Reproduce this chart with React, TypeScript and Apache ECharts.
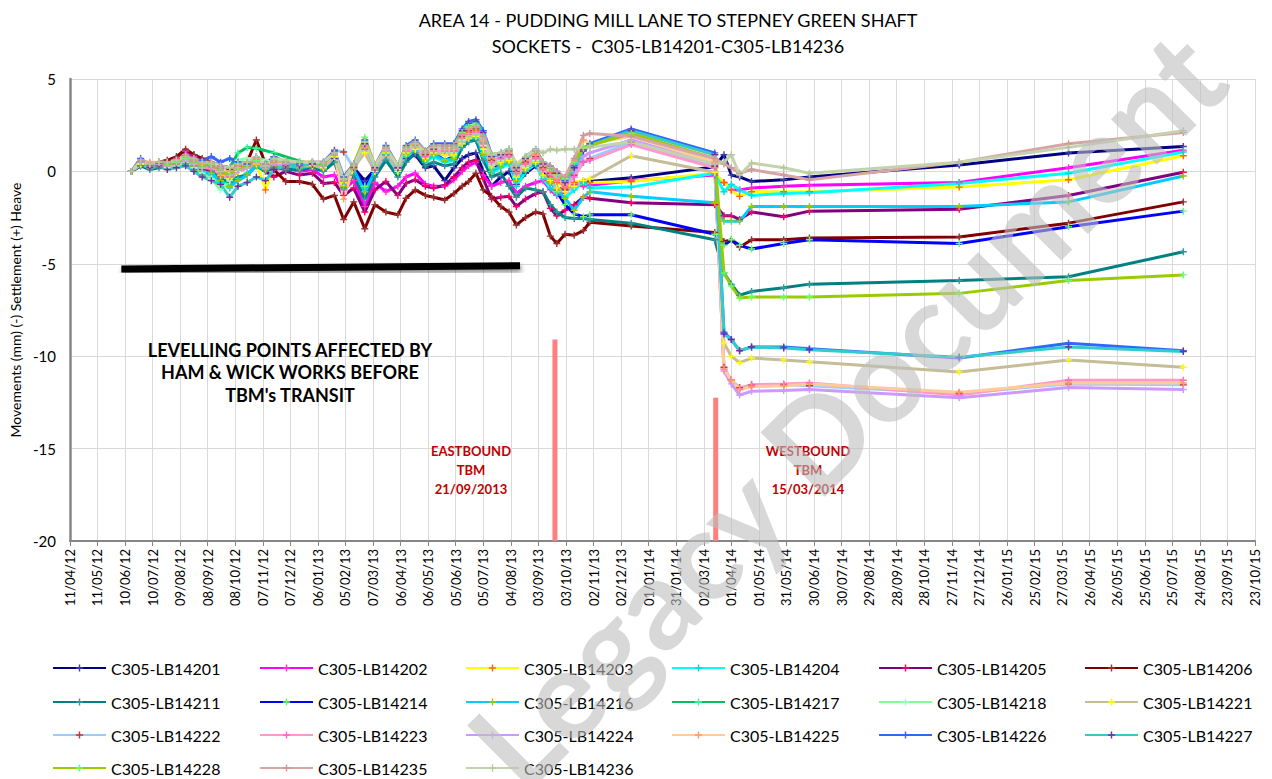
import React, { useEffect, useRef } from 'react';
import * as echarts from 'echarts';

const FONT = 'Lato, "Noto Sans", sans-serif';

const titleLines = ['AREA 14 - PUDDING MILL LANE TO STEPNEY GREEN SHAFT', 'SOCKETS -  C305-LB14201-C305-LB14236'];
const yAxisName = 'Movements (mm) (-) Settlement (+) Heave';

const axisStart = '2012-04-11';
const axisEnd = '2015-10-23';
const tickDays = 30;

const dates = [
  '2012-06-17', '2012-06-27', '2012-07-07', '2012-07-17', '2012-07-26', '2012-08-05', '2012-08-15', '2012-08-24',
  '2012-09-02', '2012-09-12', '2012-09-22', '2012-10-02', '2012-10-11', '2012-10-21', '2012-10-31', '2012-11-10',
  '2012-11-19', '2012-12-02', '2012-12-17', '2012-12-31', '2013-01-12', '2013-01-24', '2013-02-03', '2013-02-14',
  '2013-02-26', '2013-03-09', '2013-03-21', '2013-04-03', '2013-04-12', '2013-04-22', '2013-05-03', '2013-05-12',
  '2013-05-24', '2013-06-03', '2013-06-12', '2013-06-19', '2013-06-27', '2013-07-05', '2013-07-14', '2013-07-24',
  '2013-08-02', '2013-08-10', '2013-08-20', '2013-08-31', '2013-09-08', '2013-09-16', '2013-09-23', '2013-10-02',
  '2013-10-12', '2013-10-22', '2013-10-29', '2013-12-13', '2014-03-14', '2014-03-24', '2014-04-01', '2014-04-10',
  '2014-04-23', '2014-05-28', '2014-06-25', '2014-12-05', '2015-04-03', '2015-08-06',
];

const N = null;

const lb14201 = [0, 0.5, 0.3, 0.4, 0.4, 0.6, 0.8, 0.9, 0.5, 0.4, 0.2, 0.1, 0.3, 0.4, 0.7, 0.1, 0.3,
  0.4, 0.3, 0.3, 0.2, 0.7, -0.5, 0.2, -0.5, 0.1, 0.9, 0.0, 0.7, 0.9, 0.2, 0.3, -0.5, 0.2,
  0.7, 0.9, 1.0, 0.0, -0.8, -0.3, 0.0, -0.7, -0.1, 0.3, -0.2, -0.6, -0.9, -1.0, -0.8, -0.6, -0.55,
  -0.35, 0.25, 0.9, -0.2, -0.3, -0.55, -0.45, -0.3, 0.35, 1.0, 1.35];
const lb14202 = [0, 0.5, 0.4, 0.5, 0.5, 0.7, 1.1, 0.8, 0.6, 0.5, 0.3, 0.2, 0.3, 0.4, 0.6, 0.2, 0.1,
  0.2, 0.0, 0.1, -0.3, -0.2, -1.0, -0.5, -1.9, -0.6, -1.1, -0.8, -0.3, -0.1, -0.7, -0.8, -0.8, -0.45,
  0.0, 0.3, 0.5, -0.2, -0.8, -0.6, -0.5, -1.2, -0.8, -0.6, -0.5, -1.0, -1.3, -1.1, -0.7, -0.8, -0.75,
  -0.5, -0.2, -0.6, -1.0, -1.0, -0.9, -0.8, -0.75, -0.6, 0.2, 1.15];
const lb14203 = [0, 0.5, 0.4, 0.5, 0.4, 0.6, 0.8, 0.6, 0.3, 0.2, -0.3, -0.2, 0.2, 0.3, 0.5, -1.0, 0.3,
  0.3, 0.3, 0.4, 0.3, 0.9, -0.4, 0.3, 1.2, 0.1, 1.2, 0.2, 1.1, 1.4, 0.8, 1.1, 1.0, 1.1,
  1.8, 2.1, 2.2, 1.3, 0.4, 0.6, 0.7, -0.2, 0.4, 0.7, 0.1, -0.3, -0.6, -0.9, -0.6, -0.5, -0.6,
  -0.55, -0.1, -0.6, -1.0, -1.35, -1.1, -1.1, -1.1, -0.85, -0.45, 0.85];
const lb14204 = [0, 0.4, 0.2, 0.3, 0.2, 0.4, 0.6, 0.3, 0.0, -0.2, -0.6, -0.9, -0.4, -0.1, 0.3, 0.1, 0.3,
  0.3, 0.2, 0.3, 0.1, 0.8, -0.9, 0.1, -0.9, -0.1, 0.9, -0.1, 0.8, 1.1, 0.5, 0.8, 0.5, 0.6,
  1.3, 1.6, 1.8, 0.8, -0.1, 0.2, 0.4, -0.8, 0.0, 0.4, -0.4, -0.9, -1.2, -1.4, -1.0, -0.6, -0.9,
  -0.85, -0.1, -1.1, -0.7, -1.0, -1.3, -1.2, -1.15, -0.65, -0.1, 1.05];
const lb14205 = [0, 0.3, 0.2, 0.3, 0.3, 0.4, 0.5, 0.3, 0.1, 0.0, -0.2, -0.3, 0.0, 0.2, 0.4, 0.0, -0.3,
  0.0, -0.2, -0.1, -0.65, -0.6, -1.3, -0.9, -2.2, -1.0, -0.55, -1.3, -0.65, -0.45, -0.8, -0.9, -0.75, -0.3,
  0.2, 0.5, 0.6, -0.4, -1.5, -1.4, -1.35, -1.9, -1.5, -1.2, -1.1, -2.0, -2.4, -2.1, -1.8, -1.4, -1.45,
  -1.7, -1.8, -2.4, -2.4, -2.6, -2.2, -2.45, -2.15, -2.05, -1.3, -0.05];
const lb14206 = [0, 0.4, 0.3, 0.5, 0.6, 0.8, 1.2, 0.9, 0.7, 0.5, 0.3, 0.2, 0.4, 0.5, 1.7, 0.4, 0.1,
  -0.55, -0.55, -0.7, -1.5, -1.3, -2.6, -1.65, -3.1, -1.8, -2.2, -2.35, -1.45, -1.0, -1.3, -1.4, -1.55, -1.2,
  -0.8, -0.55, -0.1, -1.0, -1.35, -1.9, -2.2, -2.9, -2.5, -2.2, -2.3, -3.5, -3.9, -3.4, -3.45, -3.2, -2.75,
  -2.95, -3.3, -3.8, -3.7, -4.1, -3.7, -3.7, -3.6, -3.55, -2.8, -1.65];
const lb14211 = [0, 0.3, 0.1, 0.2, 0.2, 0.3, 0.4, 0.1, -0.2, 0.0, -0.4, -0.6, -0.3, -0.2, 0.3, 0.0, 0.2,
  0.1, 0.1, 0.2, 0.0, 0.5, -0.9, -0.2, -1.5, -0.3, 0.6, -0.3, 0.5, 1.0, 0.3, 0.5, 0.3, 0.4,
  1.3, 1.6, 1.7, 0.6, -0.3, -0.1, -0.8, -1.4, -0.9, -1.0, -1.1, -1.8, -2.2, -2.5, -2.55, -2.55, -2.6,
  -2.8, -3.7, -5.5, -6.1, -6.7, -6.5, -6.3, -6.1, -5.9, -5.7, -4.35];
const lb14214 = [0, 0.5, 0.3, 0.4, 0.3, 0.5, 0.7, 0.4, 0.2, 0.3, 0.0, -0.3, 0.1, 0.2, 0.5, 0.3, 0.5,
  0.4, 0.3, 0.4, 0.3, 0.9, -0.6, 0.2, -0.8, 0.0, 1.0, 0.1, 1.0, 1.3, 0.7, 1.0, 0.6, 0.8,
  1.6, 2.0, 2.1, 1.0, 0.2, 0.4, 0.6, -0.3, 0.3, 0.6, 0.0, -0.4, -1.1, -1.8, -2.3, -2.45, -2.35,
  -2.35, -3.4, -4.0, -3.7, -4.0, -4.2, -3.9, -3.7, -3.9, -3.0, -2.15];
const lb14216 = [0, 0.4, 0.2, 0.3, 0.2, 0.4, 0.5, 0.3, 0.0, -0.1, -0.5, -0.8, -0.5, -0.2, 0.3, 0.1, 0.3,
  0.3, 0.2, 0.3, 0.2, 0.9, -0.8, 0.1, -1.1, 0.0, 1.0, 0.0, 0.9, 1.2, 0.6, 0.9, 0.6, 0.7,
  1.5, 1.8, 1.9, 0.9, 0.0, 0.3, 0.5, -0.5, 0.1, 0.5, -0.2, -0.6, -1.0, -1.45, -2.1, -1.4, -1.1,
  -1.35, -1.7, -2.7, -2.7, -2.7, -1.9, -1.9, -1.9, -1.9, -1.65, -0.25];
const lb14217 = [0, 0.4, 0.3, 0.4, 0.4, 0.5, 0.7, 0.5, 0.3, 0.3, 0.0, 0.2, 1.0, 1.3, 1.25, N, 1.0,
  N, 0.55, 0.4, 0.4, 0.9, -0.4, 0.3, 1.7, 0.2, 1.2, 0.2, 1.2, 1.5, 0.9, 1.2, 1.2, 1.2,
  1.9, 2.2, 2.3, 1.6, 0.6, 0.8, 0.9, 0.0, 0.5, 0.8, N, N, N, N, N, N, N,
  N, N, N, N, N, N, N, N, N, N, N];
const lb14218 = [0, 0.4, 0.2, 0.3, 0.2, 0.3, 0.5, 0.2, -0.1, -0.4, -1.0, -0.5, 0.6, 0.7, 0.7, 0.6, 0.5,
  0.4, 0.3, 0.4, 0.3, 0.8, -0.6, 0.2, 1.5, 0.1, 1.1, 0.1, 1.1, 1.4, 0.8, 1.1, 1.0, 1.0,
  1.7, 2.0, 2.1, 1.4, 0.4, 0.6, 0.7, -0.2, 0.3, 0.6, N, N, N, N, N, N, N,
  N, N, N, N, N, N, N, N, N, N, N];
const lb14221 = [0, 0.4, 0.3, 0.4, 0.3, 0.5, 0.6, 0.4, 0.2, 0.2, -0.2, -0.4, 0.0, 0.2, 0.4, 0.2, 0.4,
  0.3, 0.3, 0.3, 0.2, 0.8, -0.6, 0.2, 1.0, 0.0, 1.0, 0.0, 1.0, 1.2, 0.7, 1.0, 0.9, 0.9,
  1.5, 1.8, 1.9, 1.2, 0.3, 0.5, 0.6, -0.3, 0.2, 0.5, -0.2, -0.5, -0.9, -1.1, -0.8, -0.5, -0.4,
  0.85, -0.05, -9.3, -10.0, -10.35, -10.1, -10.2, -10.3, -10.85, -10.2, -10.6];
const lb14222 = [0, 0.5, 0.3, 0.4, 0.4, 0.5, 0.7, 0.5, 0.3, 0.3, 0.0, -0.2, 0.2, 0.3, 0.6, 0.3, 0.5,
  0.4, 0.4, 0.4, 0.5, 1.15, 1.05, 0.2, 1.4, 0.1, 1.2, 0.2, 1.2, 1.5, 0.9, 1.2, 1.2, 1.2,
  1.9, 2.2, 2.3, 1.6, 0.6, 0.8, 0.9, 0.0, 0.5, 0.8, 0.2, -0.1, -0.4, -0.7, -0.2, 0.5, 0.7,
  1.6, 0.3, -10.6, -11.3, -11.7, -11.55, -11.55, -11.6, -12.0, -11.5, -11.55];
const lb14223 = [0, 0.5, 0.3, 0.4, 0.3, 0.4, 0.6, 0.4, 0.2, 0.2, -0.1, -0.3, 0.1, 0.2, 0.5, 0.2, 0.4,
  0.4, 0.4, 0.4, 0.3, 0.9, -0.5, 0.3, 1.3, 0.1, 1.1, 0.2, 1.1, 1.4, 0.8, 1.1, 1.1, 1.1,
  1.8, 2.0, 2.1, 1.5, 0.5, 0.7, 0.8, -0.1, 0.4, 0.7, 0.1, -0.2, -0.5, -0.8, -0.3, 0.5, 0.6,
  1.45, 0.2, -10.7, -11.3, -11.75, -11.55, -11.5, -11.45, -12.1, -11.3, -11.3];
const lb14224 = [0, 0.5, 0.3, 0.4, 0.3, 0.5, 0.6, 0.4, 0.2, 0.3, 0.0, -0.2, 0.1, 0.2, 0.5, 0.3, 0.4,
  0.4, 0.4, 0.5, 0.4, 1.0, -0.4, 0.3, 1.4, 0.2, 1.2, 0.3, 1.2, 1.5, 1.0, 1.3, 1.3, 1.3,
  2.0, 2.3, 2.4, 1.8, 0.7, 0.8, 1.0, 0.1, 0.6, 0.9, 0.3, 0.0, -0.3, -0.6, 0.0, 0.8, 1.0,
  1.7, 0.4, -10.8, -11.5, -12.1, -11.9, -11.85, -11.8, -12.25, -11.7, -11.8];
const lb14225 = [0, 0.6, 0.5, 0.5, 0.5, 0.6, 0.7, 0.6, 0.4, 0.4, 0.1, 0.0, 0.3, 0.4, 0.7, 0.4, 0.5,
  0.5, 0.5, 0.5, 0.4, 0.9, -1.5, 0.3, 1.3, 0.2, 1.2, 0.3, 1.2, 1.5, 1.0, 1.3, 1.3, 1.3,
  2.0, 2.3, 2.4, 1.7, 0.7, 0.9, 1.0, 0.1, 0.6, 0.9, 0.3, 0.0, -0.4, -0.7, 0.6, 1.7, 1.5,
  1.9, 0.5, -10.7, -11.3, -11.8, -11.65, -11.6, -11.5, -11.95, -11.45, -11.45];
const lb14226 = [0, 0.7, 0.3, 0.45, 0.5, 0.6, 0.9, 0.7, 0.6, 0.8, 0.5, 0.7, 0.5, 0.4, 0.8, 0.4, 0.8,
  0.5, 0.4, 0.5, 0.5, 1.1, -0.3, 0.4, 1.7, 0.3, 1.4, 0.3, 1.4, 1.7, 1.1, 1.5, 1.5, 1.5,
  2.3, 2.7, 2.8, 2.2, 0.9, 1.0, 1.2, 0.3, 0.8, 1.2, 0.5, 0.3, 0.0, -0.5, 0.3, 1.2, 1.5,
  2.3, 1.0, -8.7, -9.1, -9.7, -9.5, -9.5, -9.6, -10.1, -9.3, -9.7];
const lb14227 = [0, 0.5, 0.2, 0.3, 0.1, 0.2, 0.3, 0.0, -0.3, -0.5, -0.7, -1.4, -0.8, -0.6, -0.3, -0.5, 0.1,
  0.3, 0.3, 0.4, 0.4, 1.0, -0.5, 0.3, 1.5, 0.2, 1.3, 0.2, 1.3, 1.6, 1.0, 1.4, 1.4, 1.4,
  2.2, 2.6, 2.7, 2.1, 0.8, 0.9, 1.1, 0.2, 0.7, 1.1, 0.4, 0.2, -0.1, -0.6, 0.2, 1.1, 1.4,
  2.2, 0.9, -8.8, -9.1, -9.7, -9.5, -9.55, -9.65, -10.05, -9.5, -9.75];
const lb14228 = [0, 0.6, 0.4, 0.5, 0.4, 0.5, 0.7, 0.5, 0.3, 0.4, 0.0, -0.2, 0.2, 0.3, 0.6, 0.3, 0.6,
  0.5, 0.5, 0.5, 0.4, 1.0, -0.4, 0.4, 1.85, 0.3, 1.3, 0.3, 1.3, 1.6, 1.1, 1.4, 1.4, 1.4,
  2.1, 2.4, 2.5, 1.9, 0.9, 1.0, 1.2, 0.3, 0.8, 1.1, 0.5, 0.2, -0.2, -0.4, 0.5, 1.3, 1.4,
  2.05, 0.7, -5.5, -6.2, -6.85, -6.8, -6.8, -6.8, -6.6, -5.9, -5.6];
const lb14235 = [0, 0.6, 0.4, 0.5, 0.5, 0.6, 0.9, 0.6, 0.5, 0.5, 0.2, 0.2, 0.4, 0.5, 0.8, 0.4, 0.6,
  0.5, 0.5, 0.5, 0.5, 1.0, -0.5, 0.4, 1.6, 0.3, 1.3, 0.3, 1.3, 1.6, 1.1, 1.4, 1.4, 1.4,
  2.0, 2.3, 2.4, 1.9, 0.9, 1.0, 1.1, 0.3, 0.8, 1.1, 0.5, 0.3, 0.0, -0.3, 0.7, 1.95, 2.05,
  1.9, 0.7, 0.4, 0.2, -0.1, 0.1, -0.2, -0.45, 0.5, 1.5, 2.1];
const lb14236 = [0, 0.5, 0.4, 0.5, 0.5, 0.6, 0.8, 0.7, 0.5, 0.5, 0.3, 0.2, 0.4, 0.5, 0.8, 0.3, 0.7,
  0.6, 0.5, 0.5, 0.5, 1.0, -0.4, 0.3, 1.6, 0.3, 1.2, 0.3, 1.2, 1.5, 1.0, 1.3, 1.2, 1.2,
  1.6, 1.9, 2.0, 1.6, 0.9, 1.0, 1.2, 0.4, 0.8, 1.2, 1.0, 1.2, 1.15, 1.2, 1.2, 1.25, 1.3,
  1.6, 0.4, 0.5, 0.9, -0.2, 0.45, 0.2, -0.1, 0.5, 1.3, 2.2];

const seriesNames = [
  'C305-LB14201', 'C305-LB14202', 'C305-LB14203', 'C305-LB14204', 'C305-LB14205', 'C305-LB14206',
  'C305-LB14211', 'C305-LB14214', 'C305-LB14216', 'C305-LB14217', 'C305-LB14218', 'C305-LB14221',
  'C305-LB14222', 'C305-LB14223', 'C305-LB14224', 'C305-LB14225', 'C305-LB14226', 'C305-LB14227',
  'C305-LB14228', 'C305-LB14235', 'C305-LB14236',
];
const seriesValues = [
  lb14201, lb14202, lb14203, lb14204, lb14205, lb14206, lb14211, lb14214, lb14216, lb14217, lb14218,
  lb14221, lb14222, lb14223, lb14224, lb14225, lb14226, lb14227, lb14228, lb14235, lb14236,
];
const lineColors = [
  '#000080', '#FF00FF', '#FFFF00', '#00FFFF', '#800080', '#800000',
  '#008080', '#0000FF', '#00CCFF', '#00C060', '#80FF99', '#C4BD97',
  '#99CCFF', '#FF99CC', '#CC99FF', '#FFCC99', '#3366FF', '#33CCCC',
  '#99CC00', '#D8A5A5', '#C4D3AE',
];
const markerColors = [
  '#4040A8', '#FF33CC', '#FF6600', '#00DDDD', '#FF0066', '#993333',
  '#339999', '#66FF66', '#99CC00', '#33FF99', '#99FFCC', '#FFFF00',
  '#CC3333', '#FF66CC', '#CC99FF', '#FF9966', '#3366FF', '#7030A0',
  '#66FF66', '#CC9999', '#B3C99A',
];

// annotations
const blackBarDates = ['2012-06-06', '2013-08-14'];
const blackBarValues = [-5.28, -5.1];
const eastboundDate = '2013-09-21';
const eastboundRange = [-9.1, -20];
const westboundDate = '2014-03-15';
const westboundRange = [-12.25, -20];

const BASE = Date.UTC(2012, 3, 11);
const DAY = 86400000;
const toDay = (s: string) => {
  const [y, m, d] = s.split('-').map(Number);
  return Math.round((Date.UTC(y, m - 1, d) - BASE) / DAY);
};
const pad = (n: number) => (n < 10 ? '0' + n : '' + n);
const fmtDay = (v: number) => {
  const dt = new Date(BASE + v * DAY);
  return pad(dt.getUTCDate()) + '/' + pad(dt.getUTCMonth() + 1) + '/' + pad(dt.getUTCFullYear() % 100);
};

const PLUS = 'path://M4,0H6V4H10V6H6V10H4V6H0V4H4Z';

const legendCols = [52, 259, 465, 671, 878, 1084];
const legendRows = [666, 700, 733, 766];

export default function App() {
  const ref = useRef<HTMLDivElement>(null);
  useEffect(() => {
    if (!ref.current) return;
    const chart = echarts.init(ref.current, null, { renderer: 'svg' });
    const xs = dates.map(toDay);
    const series: any[] = seriesNames.map((name, k) => ({
      type: 'line',
      name,
      data: xs.map((x, i) => [x, seriesValues[k][i]]),
      connectNulls: true,
      symbol: PLUS,
      symbolSize: 7,
      showSymbol: true,
      lineStyle: { color: lineColors[k], width: 3 },
      itemStyle: { color: markerColors[k] },
      z: 3,
    }));
    series.push({
      type: 'line',
      name: 'blackbar',
      data: blackBarDates.map((d, i) => [toDay(d), blackBarValues[i]]),
      symbol: 'none',
      silent: true,
      lineStyle: { color: '#000', width: 7, shadowColor: 'rgba(0,0,0,0.45)', shadowBlur: 5, shadowOffsetY: 3, shadowOffsetX: 1 },
      z: 2,
    });
    series.push({
      type: 'line',
      name: 'eastbound',
      data: eastboundRange.map((v) => [toDay(eastboundDate), v]),
      symbol: 'none',
      silent: true,
      lineStyle: { color: '#FF7F7F', width: 5 },
      z: 2,
    });
    series.push({
      type: 'line',
      name: 'westbound',
      data: westboundRange.map((v) => [toDay(westboundDate), v]),
      symbol: 'none',
      silent: true,
      lineStyle: { color: '#FF7F7F', width: 5 },
      z: 2,
    });

    const legends = seriesNames.map((name, k) => ({
      data: [name],
      left: legendCols[k % 6],
      top: legendRows[Math.floor(k / 6)] - 6,
      padding: 0,
      itemWidth: 53,
      itemHeight: 9,
      selectedMode: false,
      textStyle: { fontFamily: FONT, fontSize: 16, color: '#000' },
    }));

    chart.setOption({
      animation: false,
      backgroundColor: '#fff',
      title: [
        { text: titleLines[0], left: 663, top: 6, textAlign: 'center', textStyle: { fontFamily: FONT, fontSize: 18, fontWeight: 'normal', color: '#000' } },
        { text: titleLines[1], left: 663, top: 32, textAlign: 'center', textStyle: { fontFamily: FONT, fontSize: 18, fontWeight: 'normal', color: '#000' } },
      ],
      legend: legends,
      grid: { left: 66, right: 17, top: 79, bottom: 238, containLabel: false },
      xAxis: {
        type: 'value',
        min: toDay(axisStart),
        max: toDay(axisEnd),
        interval: tickDays,
        axisLine: { onZero: false, lineStyle: { color: '#868686', width: 2 } },
        axisTick: { show: true, length: 5, lineStyle: { color: '#868686' } },
        axisLabel: { rotate: 90, fontFamily: FONT, fontSize: 13, color: '#000', margin: 8, formatter: (v: number) => fmtDay(v) },
        splitLine: { show: true, lineStyle: { color: '#D9D9D9', width: 1 } },
      },
      yAxis: {
        type: 'value',
        min: -20,
        max: 5,
        interval: 5,
        name: yAxisName,
        nameLocation: 'middle',
        nameGap: 44,
        nameRotate: 90,
        nameTextStyle: { fontFamily: FONT, fontSize: 14, color: '#000' },
        axisLine: { show: true, onZero: false, lineStyle: { color: '#868686', width: 2.5 } },
        axisTick: { show: false },
        axisLabel: { fontFamily: FONT, fontSize: 15, color: '#000', margin: 14 },
        splitLine: { show: true, lineStyle: { color: '#D9D9D9', width: 1 } },
      },
      graphic: {
        elements: [
          {
            type: 'text', x: 290, y: 372, z: 50,
            style: { text: "LEVELLING POINTS AFFECTED BY\nHAM & WICK WORKS BEFORE\nTBM's TRANSIT", font: 'bold 18px ' + FONT, fill: '#000', textAlign: 'center', textVerticalAlign: 'middle', lineHeight: 22.5 },
          },
          {
            type: 'text', x: 471, y: 470, z: 50,
            style: { text: 'EASTBOUND\nTBM\n21/09/2013', font: 'bold 13px ' + FONT, fill: '#C00000', textAlign: 'center', textVerticalAlign: 'middle', lineHeight: 19 },
          },
          {
            type: 'text', x: 808, y: 470, z: 50,
            style: { text: 'WESTBOUND\nTBM\n15/03/2014', font: 'bold 13px ' + FONT, fill: '#C00000', textAlign: 'center', textVerticalAlign: 'middle', lineHeight: 19 },
          },
          {
            type: 'text', x: 845, y: 408, z: 100, rotation: Math.PI / 4, silent: true,
            style: { text: 'Legacy Document', font: 'bold 126px ' + FONT, fill: 'rgba(190,190,190,0.6)', textAlign: 'center', textVerticalAlign: 'middle' },
          },
        ],
      },
      series,
    });
    return () => chart.dispose();
  }, []);
  return <div ref={ref} style={{ position: 'fixed', left: 0, top: 0, width: 1272, height: 779 }} />;
}
